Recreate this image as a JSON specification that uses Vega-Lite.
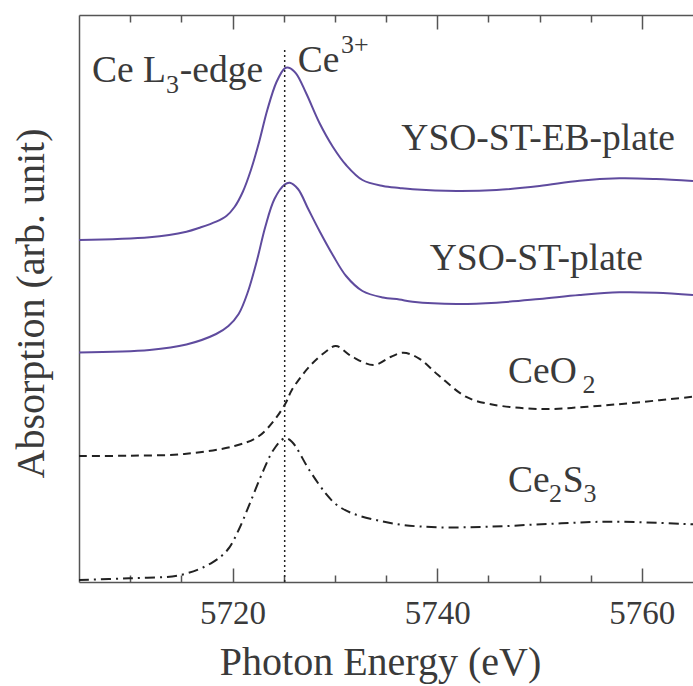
{
  "$schema": "https://vega.github.io/schema/vega-lite/v6.json",
  "width": 614,
  "height": 567,
  "autosize": {"type": "none"},
  "padding": {"left": 79, "top": 15, "right": 0, "bottom": 104},
  "config": {"view": {"stroke": null}},
  "datasets": {
    "curves": [
      {"series": "EB", "e": 5705.0, "v": 342},
      {"series": "EB", "e": 5711.9, "v": 344.7},
      {"series": "EB", "e": 5715.5, "v": 350.3},
      {"series": "EB", "e": 5716.8, "v": 354.3},
      {"series": "EB", "e": 5718.4, "v": 360.3},
      {"series": "EB", "e": 5719.4, "v": 366},
      {"series": "EB", "e": 5720.2, "v": 375},
      {"series": "EB", "e": 5721.0, "v": 390},
      {"series": "EB", "e": 5721.8, "v": 412},
      {"series": "EB", "e": 5722.6, "v": 440},
      {"series": "EB", "e": 5723.4, "v": 472},
      {"series": "EB", "e": 5724.3, "v": 500},
      {"series": "EB", "e": 5725.1, "v": 513.7},
      {"series": "EB", "e": 5725.5, "v": 514.3},
      {"series": "EB", "e": 5726.2, "v": 508.7},
      {"series": "EB", "e": 5727.2, "v": 488.7},
      {"series": "EB", "e": 5728.5, "v": 459},
      {"series": "EB", "e": 5729.8, "v": 435.3},
      {"series": "EB", "e": 5731.1, "v": 417},
      {"series": "EB", "e": 5732.7, "v": 402},
      {"series": "EB", "e": 5734.7, "v": 396},
      {"series": "EB", "e": 5736.3, "v": 394},
      {"series": "EB", "e": 5737.6, "v": 392.7},
      {"series": "EB", "e": 5741.9, "v": 391},
      {"series": "EB", "e": 5745.8, "v": 392},
      {"series": "EB", "e": 5750.0, "v": 396},
      {"series": "EB", "e": 5753.9, "v": 401.3},
      {"series": "EB", "e": 5757.8, "v": 403.7},
      {"series": "EB", "e": 5761.4, "v": 403},
      {"series": "EB", "e": 5765.0, "v": 401},
      {"series": "ST", "e": 5705.0, "v": 229.5},
      {"series": "ST", "e": 5711.9, "v": 232},
      {"series": "ST", "e": 5715.5, "v": 237.5},
      {"series": "ST", "e": 5718.4, "v": 248},
      {"series": "ST", "e": 5719.6, "v": 256},
      {"series": "ST", "e": 5720.6, "v": 268},
      {"series": "ST", "e": 5721.5, "v": 290},
      {"series": "ST", "e": 5722.4, "v": 322},
      {"series": "ST", "e": 5723.2, "v": 355},
      {"series": "ST", "e": 5724.1, "v": 383},
      {"series": "ST", "e": 5725.1, "v": 397.5},
      {"series": "ST", "e": 5725.6, "v": 399.3},
      {"series": "ST", "e": 5726.4, "v": 393},
      {"series": "ST", "e": 5727.4, "v": 373},
      {"series": "ST", "e": 5728.5, "v": 351},
      {"series": "ST", "e": 5729.8, "v": 327},
      {"series": "ST", "e": 5731.1, "v": 306},
      {"series": "ST", "e": 5732.7, "v": 291},
      {"series": "ST", "e": 5734.7, "v": 284.5},
      {"series": "ST", "e": 5736.3, "v": 282.5},
      {"series": "ST", "e": 5737.6, "v": 280.3},
      {"series": "ST", "e": 5741.9, "v": 278},
      {"series": "ST", "e": 5745.8, "v": 279.3},
      {"series": "ST", "e": 5750.0, "v": 283},
      {"series": "ST", "e": 5753.9, "v": 287},
      {"series": "ST", "e": 5757.8, "v": 289.7},
      {"series": "ST", "e": 5761.4, "v": 289.3},
      {"series": "ST", "e": 5765.0, "v": 287},
      {"series": "CeO2", "e": 5705.0, "v": 126},
      {"series": "CeO2", "e": 5709.9, "v": 126.3},
      {"series": "CeO2", "e": 5715.3, "v": 128},
      {"series": "CeO2", "e": 5720.2, "v": 136},
      {"series": "CeO2", "e": 5722.5, "v": 145.3},
      {"series": "CeO2", "e": 5724.1, "v": 162},
      {"series": "CeO2", "e": 5725.2, "v": 179},
      {"series": "CeO2", "e": 5725.8, "v": 192},
      {"series": "CeO2", "e": 5727.5, "v": 215.3},
      {"series": "CeO2", "e": 5729.1, "v": 230.3},
      {"series": "CeO2", "e": 5730.1, "v": 236},
      {"series": "CeO2", "e": 5731.7, "v": 225.3},
      {"series": "CeO2", "e": 5733.8, "v": 217},
      {"series": "CeO2", "e": 5735.5, "v": 225.3},
      {"series": "CeO2", "e": 5736.7, "v": 229.3},
      {"series": "CeO2", "e": 5738.2, "v": 223.7},
      {"series": "CeO2", "e": 5740.1, "v": 207},
      {"series": "CeO2", "e": 5742.8, "v": 185.3},
      {"series": "CeO2", "e": 5745.1, "v": 178},
      {"series": "CeO2", "e": 5750.1, "v": 173},
      {"series": "CeO2", "e": 5754.7, "v": 175.3},
      {"series": "CeO2", "e": 5759.3, "v": 179.3},
      {"series": "CeO2", "e": 5765.0, "v": 185.3},
      {"series": "Ce2S3", "e": 5705.0, "v": 2},
      {"series": "Ce2S3", "e": 5709.9, "v": 3.7},
      {"series": "Ce2S3", "e": 5714.9, "v": 7},
      {"series": "Ce2S3", "e": 5717.9, "v": 18.7},
      {"series": "Ce2S3", "e": 5719.5, "v": 32},
      {"series": "Ce2S3", "e": 5720.6, "v": 52},
      {"series": "Ce2S3", "e": 5721.7, "v": 78.7},
      {"series": "Ce2S3", "e": 5722.9, "v": 108.7},
      {"series": "Ce2S3", "e": 5724.0, "v": 132},
      {"series": "Ce2S3", "e": 5725.1, "v": 143.7},
      {"series": "Ce2S3", "e": 5725.8, "v": 140.3},
      {"series": "Ce2S3", "e": 5727.5, "v": 112},
      {"series": "Ce2S3", "e": 5729.1, "v": 88.7},
      {"series": "Ce2S3", "e": 5730.2, "v": 77},
      {"series": "Ce2S3", "e": 5731.7, "v": 68.7},
      {"series": "Ce2S3", "e": 5734.0, "v": 62},
      {"series": "Ce2S3", "e": 5736.7, "v": 57},
      {"series": "Ce2S3", "e": 5740.1, "v": 54.7},
      {"series": "Ce2S3", "e": 5745.1, "v": 55.3},
      {"series": "Ce2S3", "e": 5750.8, "v": 58},
      {"series": "Ce2S3", "e": 5756.9, "v": 60.3},
      {"series": "Ce2S3", "e": 5765.0, "v": 57.7}
    ],
    "marker": [{"e": 5725.1, "v0": 0, "v1": 533}],
    "labels": [
      {"text": "Ce L", "e": 5706.26, "v": 500.3},
      {"text": "-edge", "e": 5714.85, "v": 500.3},
      {"text": "Ce", "e": 5726.38, "v": 510.3},
      {"text": "YSO-ST-EB-plate", "e": 5736.5, "v": 432},
      {"text": "YSO-ST-plate", "e": 5739.27, "v": 312},
      {"text": "CeO", "e": 5746.93, "v": 198.7},
      {"text": "Ce", "e": 5746.93, "v": 90.3},
      {"text": "S", "e": 5752.26, "v": 90.3}
    ],
    "scripts": [
      {"text": "3", "e": 5713.49, "v": 488.7},
      {"text": "3+", "e": 5730.6, "v": 528.7},
      {"text": "2", "e": 5754.2, "v": 188.7},
      {"text": "2", "e": 5750.94, "v": 80.3},
      {"text": "3", "e": 5754.31, "v": 80.3}
    ]
  },
  "resolve": {"axis": {"x": "independent", "y": "independent"}},
  "layer": [
    {
      "data": {"name": "curves"},
      "transform": [{"filter": "datum.series === 'EB' || datum.series === 'ST'"}],
      "mark": {"type": "line", "interpolate": "catmull-rom", "color": "#5f4b9e", "strokeWidth": 2},
      "encoding": {
        "x": {"field": "e", "type": "quantitative", "scale": {"domain": [5705, 5765], "nice": false, "zero": false},
          "axis": {"orient": "bottom", "values": [5720, 5740, 5760], "format": "d", "ticks": false, "labels": true, "domain": true, "grid": false,
            "domainColor": "#555555", "domainWidth": 1.5,
            "labelFont": "Times New Roman", "labelFontSize": 33, "labelColor": "#3a3a3a", "labelBaseline": "alphabetic", "labelPadding": 41,
            "title": "Photon Energy (eV)", "titleFont": "Times New Roman", "titleFontSize": 40, "titleFontWeight": "normal", "titleColor": "#3a3a3a",
            "titleBaseline": "alphabetic", "titleX": 301, "titleY": 92}},
        "y": {"field": "v", "type": "quantitative", "scale": {"domain": [0, 567], "nice": false, "zero": false},
          "axis": {"orient": "left", "ticks": false, "labels": false, "domain": true, "grid": false,
            "domainColor": "#555555", "domainWidth": 1.5,
            "title": "Absorption (arb. unit)", "titleFont": "Times New Roman", "titleFontSize": 40, "titleFontWeight": "normal", "titleColor": "#3a3a3a",
            "titleBaseline": "alphabetic", "titleAngle": -90, "titleX": -36, "titleY": 288}},
        "detail": {"field": "series"}
      }
    },
    {
      "data": {"name": "curves"},
      "transform": [{"filter": "datum.series === 'CeO2'"}],
      "mark": {"type": "line", "interpolate": "catmull-rom", "color": "#222222", "strokeWidth": 2, "strokeDash": [8, 5]},
      "encoding": {
        "x": {"field": "e", "type": "quantitative", "scale": {"domain": [5705, 5765], "nice": false, "zero": false},
          "axis": {"orient": "bottom", "values": [5720, 5740, 5760], "tickSize": -14, "tickColor": "#555555", "tickWidth": 1.5, "labels": false, "domain": false, "grid": false, "title": null}},
        "y": {"field": "v", "type": "quantitative", "scale": {"domain": [0, 567], "nice": false, "zero": false}, "axis": null}
      }
    },
    {
      "data": {"name": "curves"},
      "transform": [{"filter": "datum.series === 'Ce2S3'"}],
      "mark": {"type": "line", "interpolate": "catmull-rom", "color": "#222222", "strokeWidth": 2, "strokeDash": [10, 5, 2, 5]},
      "encoding": {
        "x": {"field": "e", "type": "quantitative", "scale": {"domain": [5705, 5765], "nice": false, "zero": false},
          "axis": {"orient": "bottom", "values": [5710, 5715, 5725, 5730, 5735, 5745, 5750, 5755], "tickSize": -7, "tickColor": "#555555", "tickWidth": 1.5, "labels": false, "domain": false, "grid": false, "title": null}},
        "y": {"field": "v", "type": "quantitative", "scale": {"domain": [0, 567], "nice": false, "zero": false}, "axis": null}
      }
    },
    {
      "data": {"name": "marker"},
      "mark": {"type": "rule", "color": "#222222", "strokeWidth": 1.5, "strokeDash": [2, 3]},
      "encoding": {
        "x": {"field": "e", "type": "quantitative", "scale": {"domain": [5705, 5765], "nice": false, "zero": false},
          "axis": {"orient": "top", "values": [5720, 5740, 5760], "tickSize": -14, "tickColor": "#555555", "tickWidth": 1.5, "labels": false, "domain": true, "domainColor": "#555555", "domainWidth": 1.5, "grid": false, "title": null}},
        "y": {"field": "v0", "type": "quantitative", "scale": {"domain": [0, 567], "nice": false, "zero": false}, "axis": null},
        "y2": {"field": "v1"}
      }
    },
    {
      "data": {"name": "labels"},
      "mark": {"type": "text", "font": "Times New Roman", "fontSize": 37.5, "fill": "#3a3a3a", "align": "left", "baseline": "alphabetic"},
      "encoding": {
        "x": {"field": "e", "type": "quantitative", "scale": {"domain": [5705, 5765], "nice": false, "zero": false},
          "axis": {"orient": "top", "values": [5710, 5715, 5725, 5730, 5735, 5745, 5750, 5755], "tickSize": -7, "tickColor": "#555555", "tickWidth": 1.5, "labels": false, "domain": false, "grid": false, "title": null}},
        "y": {"field": "v", "type": "quantitative", "scale": {"domain": [0, 567], "nice": false, "zero": false}, "axis": null},
        "text": {"field": "text"}
      }
    },
    {
      "data": {"name": "scripts"},
      "mark": {"type": "text", "font": "Times New Roman", "fontSize": 26, "fill": "#3a3a3a", "align": "left", "baseline": "alphabetic"},
      "encoding": {
        "x": {"field": "e", "type": "quantitative", "scale": {"domain": [5705, 5765], "nice": false, "zero": false}, "axis": null},
        "y": {"field": "v", "type": "quantitative", "scale": {"domain": [0, 567], "nice": false, "zero": false}, "axis": null},
        "text": {"field": "text"}
      }
    }
  ]
}
